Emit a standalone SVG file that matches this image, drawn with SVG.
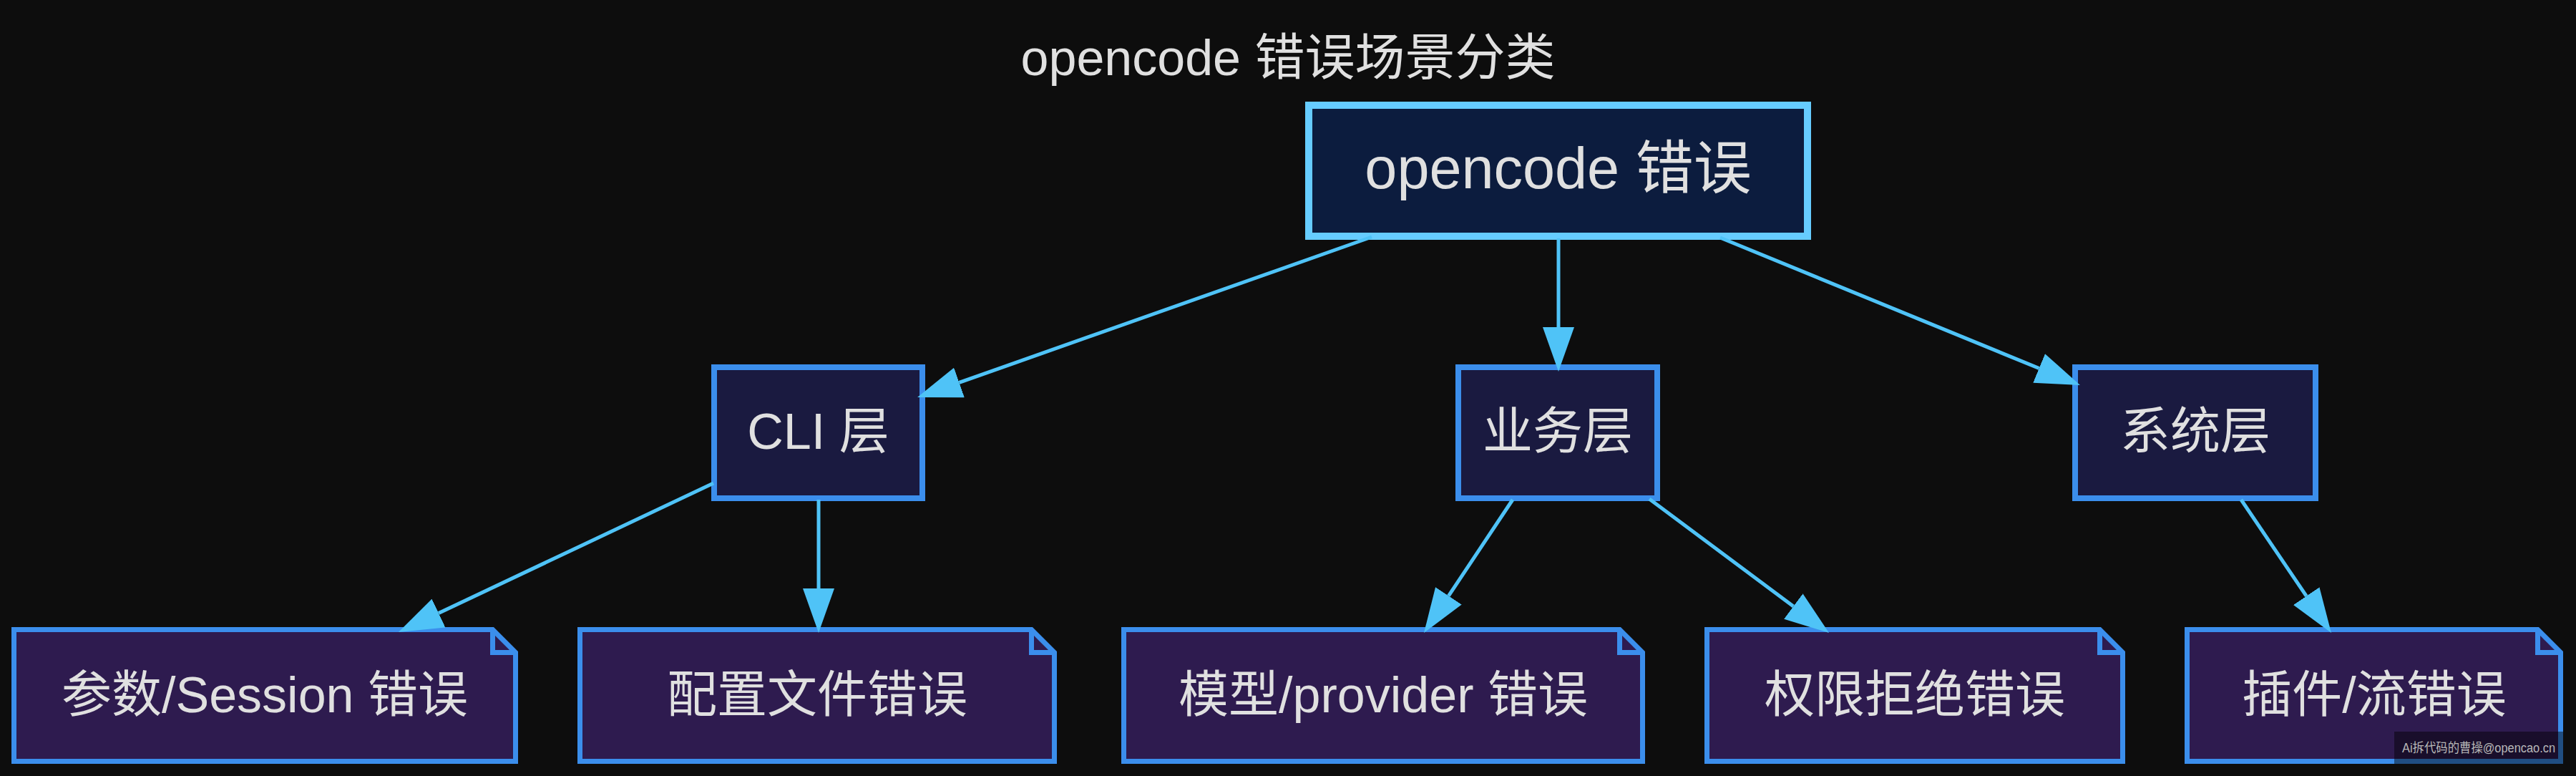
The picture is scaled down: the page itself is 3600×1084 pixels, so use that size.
<svg xmlns="http://www.w3.org/2000/svg" width="3600" height="1084" viewBox="0 0 3600 1084">
<defs>
<style>
.t{font-family:"Liberation Sans",Arial,"Noto Sans CJK SC",sans-serif;fill:#e0e0e0;text-anchor:middle}
.root{fill:#0c1c3e;stroke:#66ccff;stroke-width:10}
.mid{fill:#1a1a40;stroke:#3b8eec;stroke-width:8}
.leaf{fill:#2e1b4f;stroke:#3b8eec;stroke-width:7;stroke-linejoin:miter}
.fold{fill:none;stroke:#3b8eec;stroke-width:7}
.e{fill:none;stroke:#4fc3f7;stroke-width:5;marker-end:url(#ah)}
</style>
<marker id="ah" markerUnits="userSpaceOnUse" markerWidth="62" markerHeight="44" refX="0" refY="22" orient="auto" viewBox="0 0 62 44">
<path d="M0,0 L62,22 L0,44 Z" fill="#4fc3f7"/>
</marker>
</defs>
<rect width="3600" height="1084" fill="#0d0d0d"/>
<text class="t" x="1800" y="105" font-size="70">opencode 错误场景分类</text>

<g id="root">
<rect class="root" x="1829" y="147" width="697" height="183"/>
<text class="t" x="2177.5" y="263" font-size="81">opencode 错误</text>
</g>

<g id="cli">
<rect class="mid" x="998" y="513" width="291" height="183"/>
<text class="t" x="1143.5" y="627" font-size="70">CLI 层</text>
</g>
<g id="biz">
<rect class="mid" x="2038" y="513" width="278" height="183"/>
<text class="t" x="2177" y="627" font-size="70">业务层</text>
</g>
<g id="sys">
<rect class="mid" x="2900" y="513" width="336" height="183"/>
<text class="t" x="3068" y="627" font-size="70">系统层</text>
</g>

<g id="leaf-args">
<path class="leaf" d="M19.5,879.5 H688.5 L720.5,911.5 V1063.5 H19.5 Z"/>
<path class="fold" d="M688.5,879.5 V911.5 H720.5"/>
<text class="t" x="370" y="995" font-size="70">参数/Session 错误</text>
</g>
<g id="leaf-config">
<path class="leaf" d="M810.5,879.5 H1441.5 L1473.5,911.5 V1063.5 H810.5 Z"/>
<path class="fold" d="M1441.5,879.5 V911.5 H1473.5"/>
<text class="t" x="1142" y="995" font-size="70">配置文件错误</text>
</g>
<g id="leaf-model">
<path class="leaf" d="M1570.5,879.5 H2263.5 L2295.5,911.5 V1063.5 H1570.5 Z"/>
<path class="fold" d="M2263.5,879.5 V911.5 H2295.5"/>
<text class="t" x="1933" y="995" font-size="70">模型/provider 错误</text>
</g>
<g id="leaf-perm">
<path class="leaf" d="M2385.5,879.5 H2934.5 L2966.5,911.5 V1063.5 H2385.5 Z"/>
<path class="fold" d="M2934.5,879.5 V911.5 H2966.5"/>
<text class="t" x="2676" y="995" font-size="70">权限拒绝错误</text>
</g>
<g id="leaf-plugin">
<path class="leaf" d="M3056.5,879.5 H3546.5 L3578.5,911.5 V1063.5 H3056.5 Z"/>
<path class="fold" d="M3546.5,879.5 V911.5 H3578.5"/>
<text class="t" x="3318" y="995" font-size="70">插件/流错误</text>
</g>

<g id="connectors">
<path class="e" d="M1917,331 L1340.5,534.4"/>
<path class="e" d="M2178,333 L2178,457"/>
<path class="e" d="M2404,332 L2849.6,514.5"/>
<path class="e" d="M997,675 L613,856.5"/>
<path class="e" d="M1144,698 L1144,822"/>
<path class="e" d="M2114,698 L2024.4,832.4"/>
<path class="e" d="M2305,697 L2506.3,847"/>
<path class="e" d="M3132,698 L3223.2,832.7"/>
</g>

<g id="watermark">
<rect x="3346" y="1022" width="236" height="45" fill="#000" fill-opacity="0.45"/>
<text x="3357" y="1051" font-size="18" textLength="214" lengthAdjust="spacingAndGlyphs" fill="#b8b8b8" font-family="'Liberation Sans','Noto Sans CJK SC',sans-serif">Ai拆代码的曹操@opencao.cn</text>
</g>
</svg>
